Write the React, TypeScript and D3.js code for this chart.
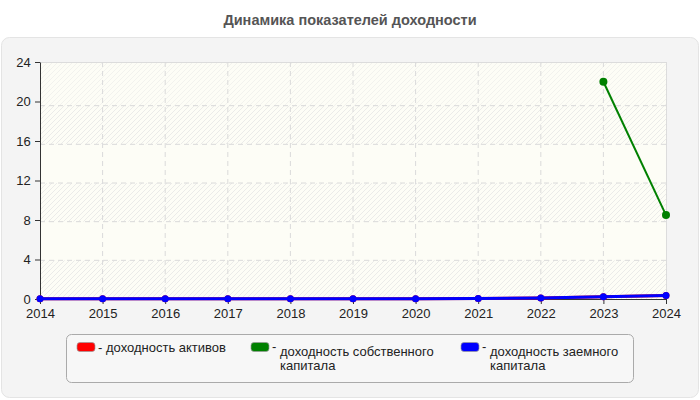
import { useEffect, useRef } from "react";
import * as d3 from "d3";

const width = 700;
const height = 400;
const margin = { top: 62, right: 34, bottom: 101, left: 40 };

const years = [2014, 2015, 2016, 2017, 2018, 2019, 2020, 2021, 2022, 2023, 2024];
const assetsReturn = [0.02, 0.02, 0.02, 0.02, 0.02, 0.02, 0.03, 0.05, 0.1, 0.23, 0.36];
const equityReturn = [null, null, null, null, null, null, null, null, null, 22.0, 8.5];
const debtReturn = [0.02, 0.02, 0.02, 0.02, 0.02, 0.02, 0.03, 0.05, 0.1, 0.23, 0.36];
const yTicks = [0, 4, 8, 12, 16, 20, 24];

const seriesNames = [
  ["доходность активов"],
  ["доходность собственного", "капитала"],
  ["доходность заемного", "капитала"],
];
const seriesColors = ["#ff0000", "#008000", "#0000ff"];

const font = "'Liberation Sans', Arial, sans-serif";

const App = () => {
  const xAxisRef = useRef(null);
  const yAxisRef = useRef(null);

  const xScale = d3
    .scalePoint<number>()
    .domain(years)
    .range([margin.left, width - margin.right]);
  const yScale = d3
    .scaleLinear()
    .domain([0, 24])
    .range([height - margin.bottom, margin.top]);
  // grid of the original is drawn a few pixels lower than the ticks
  const gridScale = d3
    .scaleLinear()
    .domain([0, 24])
    .range([height - margin.bottom, margin.top + 5]);

  const line = d3
    .line<number | null>()
    .defined((d) => d !== null)
    .x((_, i) => xScale(years[i]) as number)
    .y((d) => yScale(d as number));

  useEffect(() => {
    if (xAxisRef.current) {
      const g = d3.select<SVGGElement, unknown>(xAxisRef.current);
      g.call(d3.axisBottom(xScale).tickSize(5).tickSizeOuter(0).tickFormat(d3.format("d")));
      g.selectAll("text").attr("font-size", 13).attr("font-family", font).attr("fill", "#222").attr("dy", "0.85em");
      g.selectAll("line,path").attr("stroke", "#333");
    }
    if (yAxisRef.current) {
      const g = d3.select<SVGGElement, unknown>(yAxisRef.current);
      g.call(d3.axisLeft(yScale).tickValues(yTicks).tickSize(5).tickSizeOuter(0));
      g.selectAll("text").attr("font-size", 13).attr("font-family", font).attr("fill", "#222").attr("dx", "-0.1em");
      g.selectAll("line,path").attr("stroke", "#333");
    }
  }, []);

  const plotW = width - margin.left - margin.right;
  const bands = yTicks.slice(0, -1).map((v, i) => ({
    y0: i === yTicks.length - 2 ? margin.top : gridScale(yTicks[i + 1]),
    y1: gridScale(v),
    hatched: i % 2 === 0,
    top: i === yTicks.length - 2,
  }));

  const series = [assetsReturn, equityReturn, debtReturn];
  const legendX = [77, 251, 461];

  return (
    <svg width={width} height={height} style={{ position: "absolute", left: 0, top: 0 }}>
      <defs>
        <pattern id="hatch" width="5" height="5" patternUnits="userSpaceOnUse">
          <path d="M0,5 L5,0 M-1,1 L1,-1 M4,6 L6,4" stroke="#e6e6e6" strokeWidth={0.8} />
        </pattern>
      </defs>
      <rect x={0} y={0} width={width} height={height} fill="#fff" />
      <text x={350} y={25} textAnchor="middle" fontFamily={font} fontWeight="bold" fontSize={14.5} fill="#555">
        Динамика показателей доходности
      </text>
      <rect x={1.5} y={37.5} width={697} height={360} rx={8} fill="#f4f4f4" stroke="#e4e4e4" />

      <rect x={margin.left} y={margin.top} width={plotW} height={yScale(0) - margin.top} fill="#fdfdf6" />
      {bands.map((b, i) =>
        b.hatched || b.top ? (
          <rect key={i} x={margin.left} y={b.y0} width={plotW} height={b.y1 - b.y0} fill="url(#hatch)" opacity={b.top ? 0.6 : 1} />
        ) : null
      )}
      <line x1={margin.left} x2={width - margin.right} y1={margin.top + 0.5} y2={margin.top + 0.5} stroke="#dcdcdc" />
      <line x1={width - margin.right + 0.5} x2={width - margin.right + 0.5} y1={margin.top} y2={yScale(0)} stroke="#dcdcdc" />
      {yTicks.slice(1, -1).map((v) => (
        <line key={v} x1={margin.left} x2={width - margin.right} y1={gridScale(v)} y2={gridScale(v)} stroke="#dadada" strokeDasharray="5,4" />
      ))}
      {years.slice(1, -1).map((yr) => (
        <line key={yr} x1={xScale(yr)} x2={xScale(yr)} y1={margin.top} y2={yScale(0)} stroke="#dadada" strokeDasharray="5,4" />
      ))}

      <g ref={xAxisRef} transform={`translate(0, ${yScale(0)})`} />
      <g ref={yAxisRef} transform={`translate(${margin.left}, 0)`} />

      {series.map((s, si) => (
        <g key={si}>
          <path d={line(s) ?? ""} fill="none" stroke={seriesColors[si]} strokeWidth={si === 1 ? 2 : 3} />
          {s.map((d, i) =>
            d === null ? null : (
              <circle key={i} cx={xScale(years[i])} cy={yScale(d)} r={si === 1 ? 4 : 3.5} fill={seriesColors[si]} />
            )
          )}
        </g>
      ))}

      <rect x={66.5} y={334.5} width={567} height={48} rx={5} fill="#f7f7f7" stroke="#aaa" />
      {seriesNames.map((lines, i) => (
        <g key={i} fontFamily={font} fontSize={13} fill="#222">
          <rect x={legendX[i]} y={342.5} width={18} height={9} rx={3} fill={seriesColors[i]} stroke="#999" strokeWidth={0.7} />
          <text x={legendX[i] + 21} y={i === 0 ? 352 : 351}>-</text>
          {lines.map((t, j) => (
            <text key={j} x={legendX[i] + 29} y={(i === 0 ? 352 : 356) + j * 14}>
              {t}
            </text>
          ))}
        </g>
      ))}
    </svg>
  );
};

export default App;
